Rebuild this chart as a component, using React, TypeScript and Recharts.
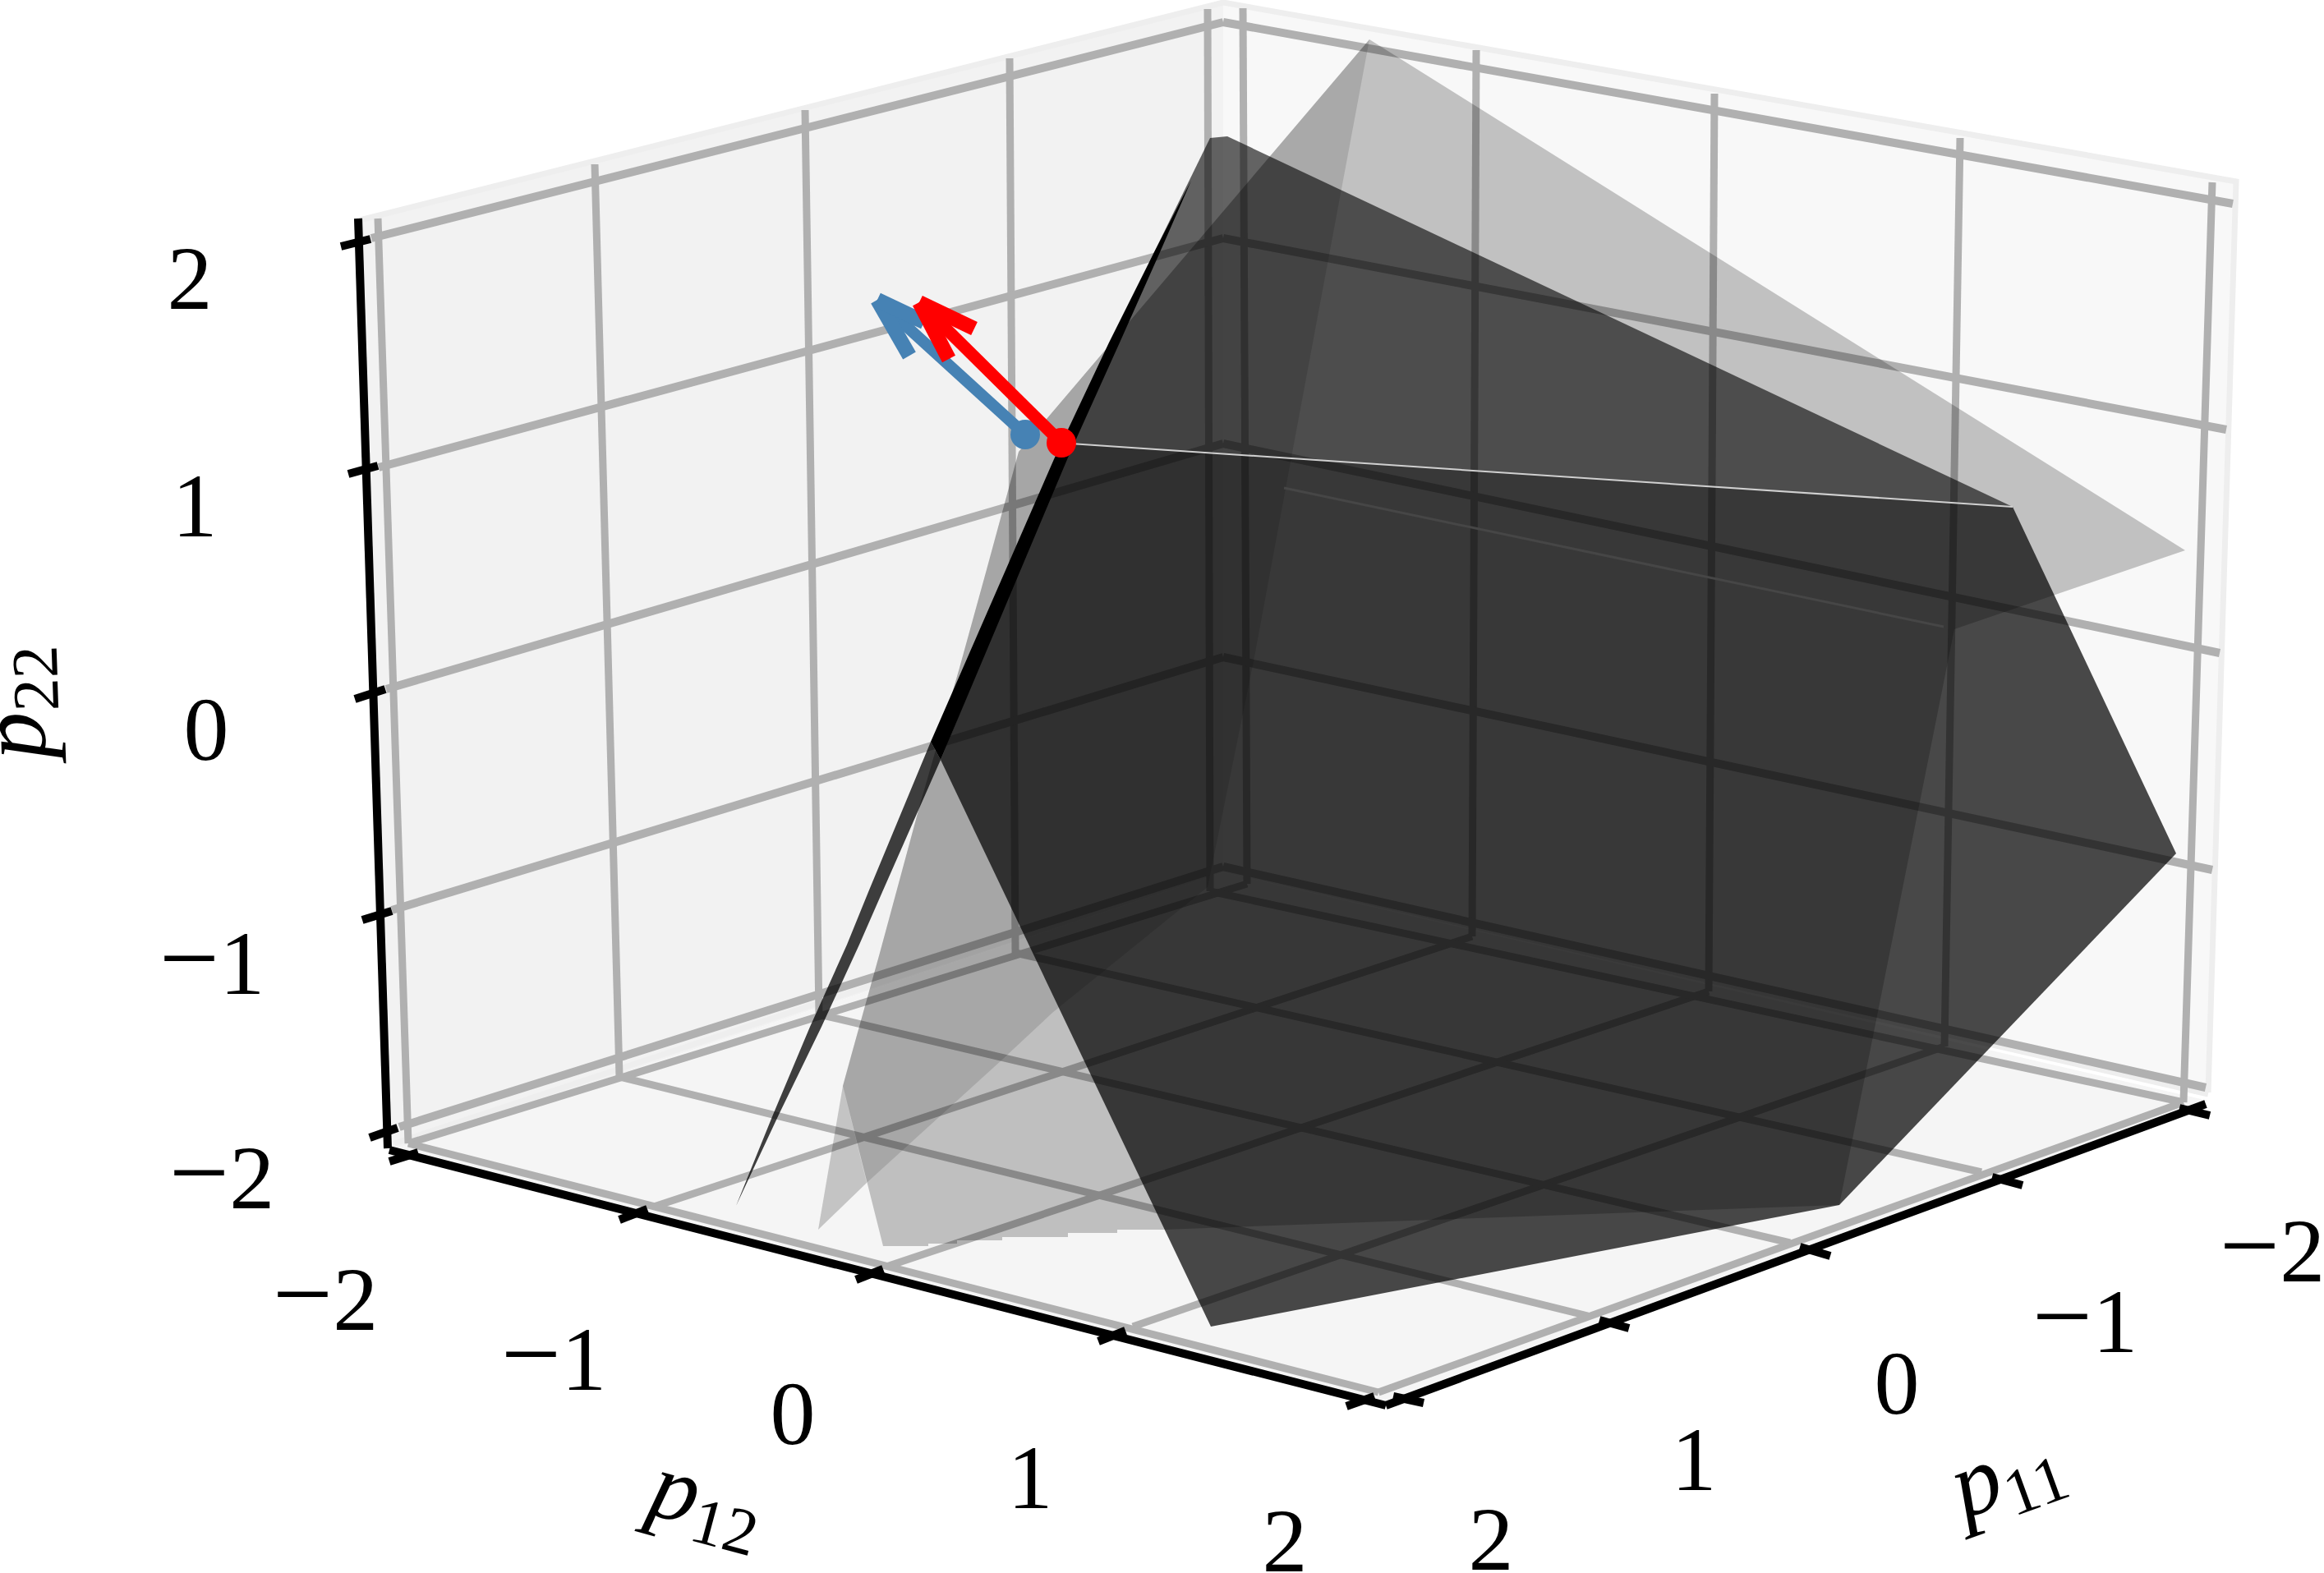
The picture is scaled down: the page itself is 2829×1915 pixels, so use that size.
import { Scatter, ScatterChart, XAxis, YAxis } from "recharts";

const WIDTH = 2829;
const HEIGHT = 1915;

type Pair = [number, number];

const leftPane: Pair[] = [[438, 266], [1489, 3], [1489, 1062], [478, 1400]];
const rightPane: Pair[] = [[1489, 3], [2722, 221], [2688, 1330], [1489, 1062]];
const floorPane: Pair[] = [[478, 1400], [1489, 1062], [2688, 1340], [1690, 1710]];
const paneEdges: Pair[][] = [
  [[438, 268], [1489, 3], [2722, 221], [2688, 1330]],
  [[480, 1392], [1489, 1058], [2688, 1332]],
];

const gridLeftWallZ: Pair[][] = [
  [[452, 290], [1489, 27]],
  [[461, 569], [1489, 290]],
  [[470, 839], [1489, 540]],
  [[477, 1108], [1489, 800]],
  [[486, 1372], [1489, 1055]],
];
const gridRightWallZ: Pair[][] = [
  [[1489, 27], [2718, 248]],
  [[1489, 290], [2710, 523]],
  [[1489, 540], [2702, 795]],
  [[1489, 800], [2693, 1059]],
  [[1489, 1055], [2685, 1324]],
];
const gridLeftWallV: Pair[][] = [
  [[460, 266], [497, 1392]],
  [[724, 200], [754, 1311]],
  [[980, 134], [997, 1235]],
  [[1229, 71], [1236, 1160]],
  [[1470, 11], [1473, 1085]],
];
const gridRightWallV: Pair[][] = [
  [[1513, 10], [1518, 1076]],
  [[1797, 61], [1792, 1140]],
  [[2087, 114], [2080, 1207]],
  [[2386, 168], [2367, 1274]],
  [[2693, 222], [2658, 1342]],
];
const gridFloorA: Pair[][] = [
  [[1678, 1695], [2658, 1342]],
  [[1379, 1615], [2367, 1274]],
  [[1079, 1542], [2080, 1207]],
  [[796, 1469], [1792, 1140]],
  [[497, 1392], [1518, 1076]],
];
const gridFloorB: Pair[][] = [
  [[497, 1392], [1678, 1695]],
  [[754, 1311], [1933, 1602]],
  [[997, 1235], [2179, 1513]],
  [[1236, 1160], [2412, 1427]],
  [[1473, 1085], [2658, 1342]],
];

const axisLines: Pair[][] = [
  [[436, 266], [472, 1398]],
  [[474, 1400], [1687, 1711]],
  [[1687, 1711], [2685, 1344]],
];
const axisTicks: Pair[][] = [
  [[415, 300], [451, 291]],
  [[424, 577], [460, 567]],
  [[432, 851], [469, 839]],
  [[441, 1120], [477, 1109]],
  [[450, 1385], [484, 1373]],
  [[474, 1414], [509, 1403]],
  [[754, 1485], [788, 1472]],
  [[1042, 1558], [1075, 1545]],
  [[1337, 1633], [1370, 1620]],
  [[1639, 1712], [1673, 1700]],
  [[1696, 1700], [1733, 1708]],
  [[1947, 1607], [1983, 1617]],
  [[2191, 1518], [2228, 1529]],
  [[2425, 1433], [2462, 1443]],
  [[2653, 1349], [2690, 1358]],
];

const lightSheet: Pair[] = [
  [1667, 48], [2660, 670], [2379, 766], [2239, 1467],
  [1417, 1497], [1360, 1497], [1360, 1501], [1300, 1501], [1300, 1506], [1220, 1506],
  [1220, 1510], [1165, 1510], [1165, 1514], [1130, 1514], [1130, 1517], [1075, 1517],
  [1026, 1322], [1037, 1282], [1071, 1160], [1120, 979], [1168, 813], [1200, 697], [1240, 550],
];
const lightWedge: Pair[] = [
  [1667, 48], [1240, 550], [1200, 697], [1168, 813], [1120, 979], [1071, 1160], [1037, 1282], [1026, 1322],
  [1055, 1440], [1220, 1290], [1281, 1233], [1470, 1080], [1527, 800], [1572, 557],
];
const lightTip: Pair[] = [[996, 1497], [1026, 1322], [1055, 1440]];
const upperFacet: Pair[] = [[1473, 168], [1494, 166], [2450, 617], [1297, 540], [1405, 307]];
const lowerFacet: Pair[] = [
  [1303, 540], [2450, 617], [2649, 1039], [2239, 1467], [1474, 1615], [1145, 925],
];
const edgeBand: Pair[] = [
  [1450, 220], [1412, 307], [1363, 417], [1303, 550], [1145, 925],
  [1133, 903], [1283, 559], [1350, 417], [1405, 307],
];
const sliver: Pair[] = [
  [1133, 903], [1145, 925], [1074, 1086], [1046, 1150], [1000, 1250], [948, 1357], [896, 1468],
  [941, 1357], [986, 1250], [1031, 1150], [1057, 1086],
];
const brightSeam: Pair[] = [[1303, 540], [2450, 617]];
const faintSeam: Pair[] = [[1563, 594], [2366, 763]];

const blueArrow = {
  color: "#4682b4",
  origin: [1248, 529] as Pair,
  tip: [1068, 365] as Pair,
  barbs: [[1107, 433], [1125, 392]] as Pair[],
};
const redArrow = {
  color: "#ff0000",
  origin: [1292, 539] as Pair,
  tip: [1119, 368] as Pair,
  barbs: [[1186, 400], [1155, 437]] as Pair[],
};

const zTickLabels = [
  { x: 231, y: 339, minus: false, label: "2" },
  { x: 237, y: 616, minus: false, label: "1" },
  { x: 251, y: 888, minus: false, label: "0" },
  { x: 258, y: 1173, minus: true, label: "1" },
  { x: 270, y: 1434, minus: true, label: "2" },
];
const p12TickLabels = [
  { x: 396, y: 1582, minus: true, label: "2" },
  { x: 674, y: 1655, minus: true, label: "1" },
  { x: 965, y: 1721, minus: false, label: "0" },
  { x: 1254, y: 1799, minus: false, label: "1" },
  { x: 1564, y: 1876, minus: false, label: "2" },
];
const p11TickLabels = [
  { x: 2766, y: 1523, minus: true, label: "2" },
  { x: 2538, y: 1609, minus: true, label: "1" },
  { x: 2309, y: 1684, minus: false, label: "0" },
  { x: 2062, y: 1777, minus: false, label: "1" },
  { x: 1815, y: 1874, minus: false, label: "2" },
];
const axisTitles = [
  { x: 2450, y: 1815, sub: "11", rotate: -20 },
  { x: 855, y: 1848, sub: "12", rotate: 15 },
  { x: 41, y: 855, sub: "22", rotate: -92 },
];

const toPoints = (pairs: Pair[]) => pairs.map(([x, y]) => ({ x, y }));
const closed = (pairs: Pair[]) => toPoints([...pairs, pairs[0]]);

const NoMark = () => <g />;

function TickText({ cx, cy, payload }: any) {
  return (
    <text x={cx} y={cy + 37} textAnchor="middle" fontFamily="'Liberation Serif'" fontSize={110} fill="#000">
      {payload.minus && <tspan fontSize={130}>{"\u2212"}</tspan>}
      {payload.label}
    </text>
  );
}

function TitleText({ cx, cy, payload }: any) {
  return (
    <text
      x={cx}
      y={cy + 12}
      textAnchor="middle"
      fontFamily="'Liberation Serif'"
      fontSize={116}
      fill="#000"
      transform={`rotate(${payload.rotate} ${cx} ${cy})`}
    >
      <tspan fontStyle="italic">p</tspan>
      <tspan fontSize={80} dy={18}>{payload.sub}</tspan>
    </text>
  );
}

function dotShape(color: string) {
  return ({ cx, cy }: any) => <circle cx={cx} cy={cy} r={18} fill={color} />;
}

function stroked(key: string, pairs: Pair[], stroke: string, strokeWidth: number) {
  return (
    <Scatter
      key={key}
      data={toPoints(pairs)}
      line={{ stroke, strokeWidth, fill: "none" }}
      shape={NoMark}
      isAnimationActive={false}
    />
  );
}

function filled(key: string, pairs: Pair[], fill: string, fillOpacity: number) {
  return (
    <Scatter
      key={key}
      data={closed(pairs)}
      line={{ fill, fillOpacity, stroke: "none" }}
      shape={NoMark}
      isAnimationActive={false}
    />
  );
}

function arrow(name: string, a: typeof blueArrow, width: number) {
  return [
    stroked(`${name}-shaft`, [a.origin, a.tip], a.color, width),
    ...a.barbs.map((b, i) => stroked(`${name}-barb-${i}`, [b, a.tip], a.color, 18)),
    <Scatter
      key={`${name}-dot`}
      data={toPoints([a.origin])}
      shape={dotShape(a.color)}
      isAnimationActive={false}
    />,
  ];
}

const GRID = "#b0b0b0";
const wallZGrid = [...gridLeftWallZ, ...gridRightWallZ];
const otherGrid = [...gridLeftWallV, ...gridRightWallV, ...gridFloorA, ...gridFloorB];

export default function App() {
  return (
    <div style={{ position: "absolute", left: 0, top: 0, width: WIDTH, height: HEIGHT, background: "#fff" }}>
      <ScatterChart width={WIDTH} height={HEIGHT} margin={{ top: 0, right: 0, bottom: 0, left: 0 }}>
        <XAxis type="number" dataKey="x" domain={[0, WIDTH]} hide />
        <YAxis type="number" dataKey="y" domain={[0, HEIGHT]} reversed hide />

        {filled("pane-left", leftPane, "#f2f2f2", 1)}
        {filled("pane-right", rightPane, "#f8f8f8", 1)}
        {filled("pane-floor", floorPane, "#f5f5f5", 1)}
        {paneEdges.map((e, i) => stroked(`pane-edge-${i}`, e, "#eeeeee", 7))}

        {otherGrid.map((g, i) => stroked(`grid-${i}`, g, GRID, 9))}
        {wallZGrid.map((g, i) => stroked(`grid-z-${i}`, g, GRID, 10))}
        {axisLines.map((a, i) => stroked(`axis-${i}`, a, "#000", 10))}
        {axisTicks.map((t, i) => stroked(`tick-${i}`, t, "#000", 10))}

        {filled("light-sheet", lightSheet, "#000", 0.22)}
        {filled("light-wedge", lightWedge, "#000", 0.12)}
        {filled("light-tip", lightTip, "#000", 0.2)}
        {filled("upper-facet", upperFacet, "#000", 0.6)}
        {filled("lower-facet", lowerFacet, "#000", 0.71)}
        {filled("edge-band", edgeBand, "#000", 1)}
        {filled("sliver", sliver, "#000", 0.75)}
        {stroked("seam-bright", brightSeam, "#d0d0d0", 2)}
        {stroked("seam-faint", faintSeam, "#464646", 3)}

        {arrow("blue", blueArrow, 14)}
        {arrow("red", redArrow, 15)}

        <Scatter data={zTickLabels} shape={TickText} isAnimationActive={false} />
        <Scatter data={p12TickLabels} shape={TickText} isAnimationActive={false} />
        <Scatter data={p11TickLabels} shape={TickText} isAnimationActive={false} />
        <Scatter data={axisTitles} shape={TitleText} isAnimationActive={false} />
      </ScatterChart>
    </div>
  );
}
